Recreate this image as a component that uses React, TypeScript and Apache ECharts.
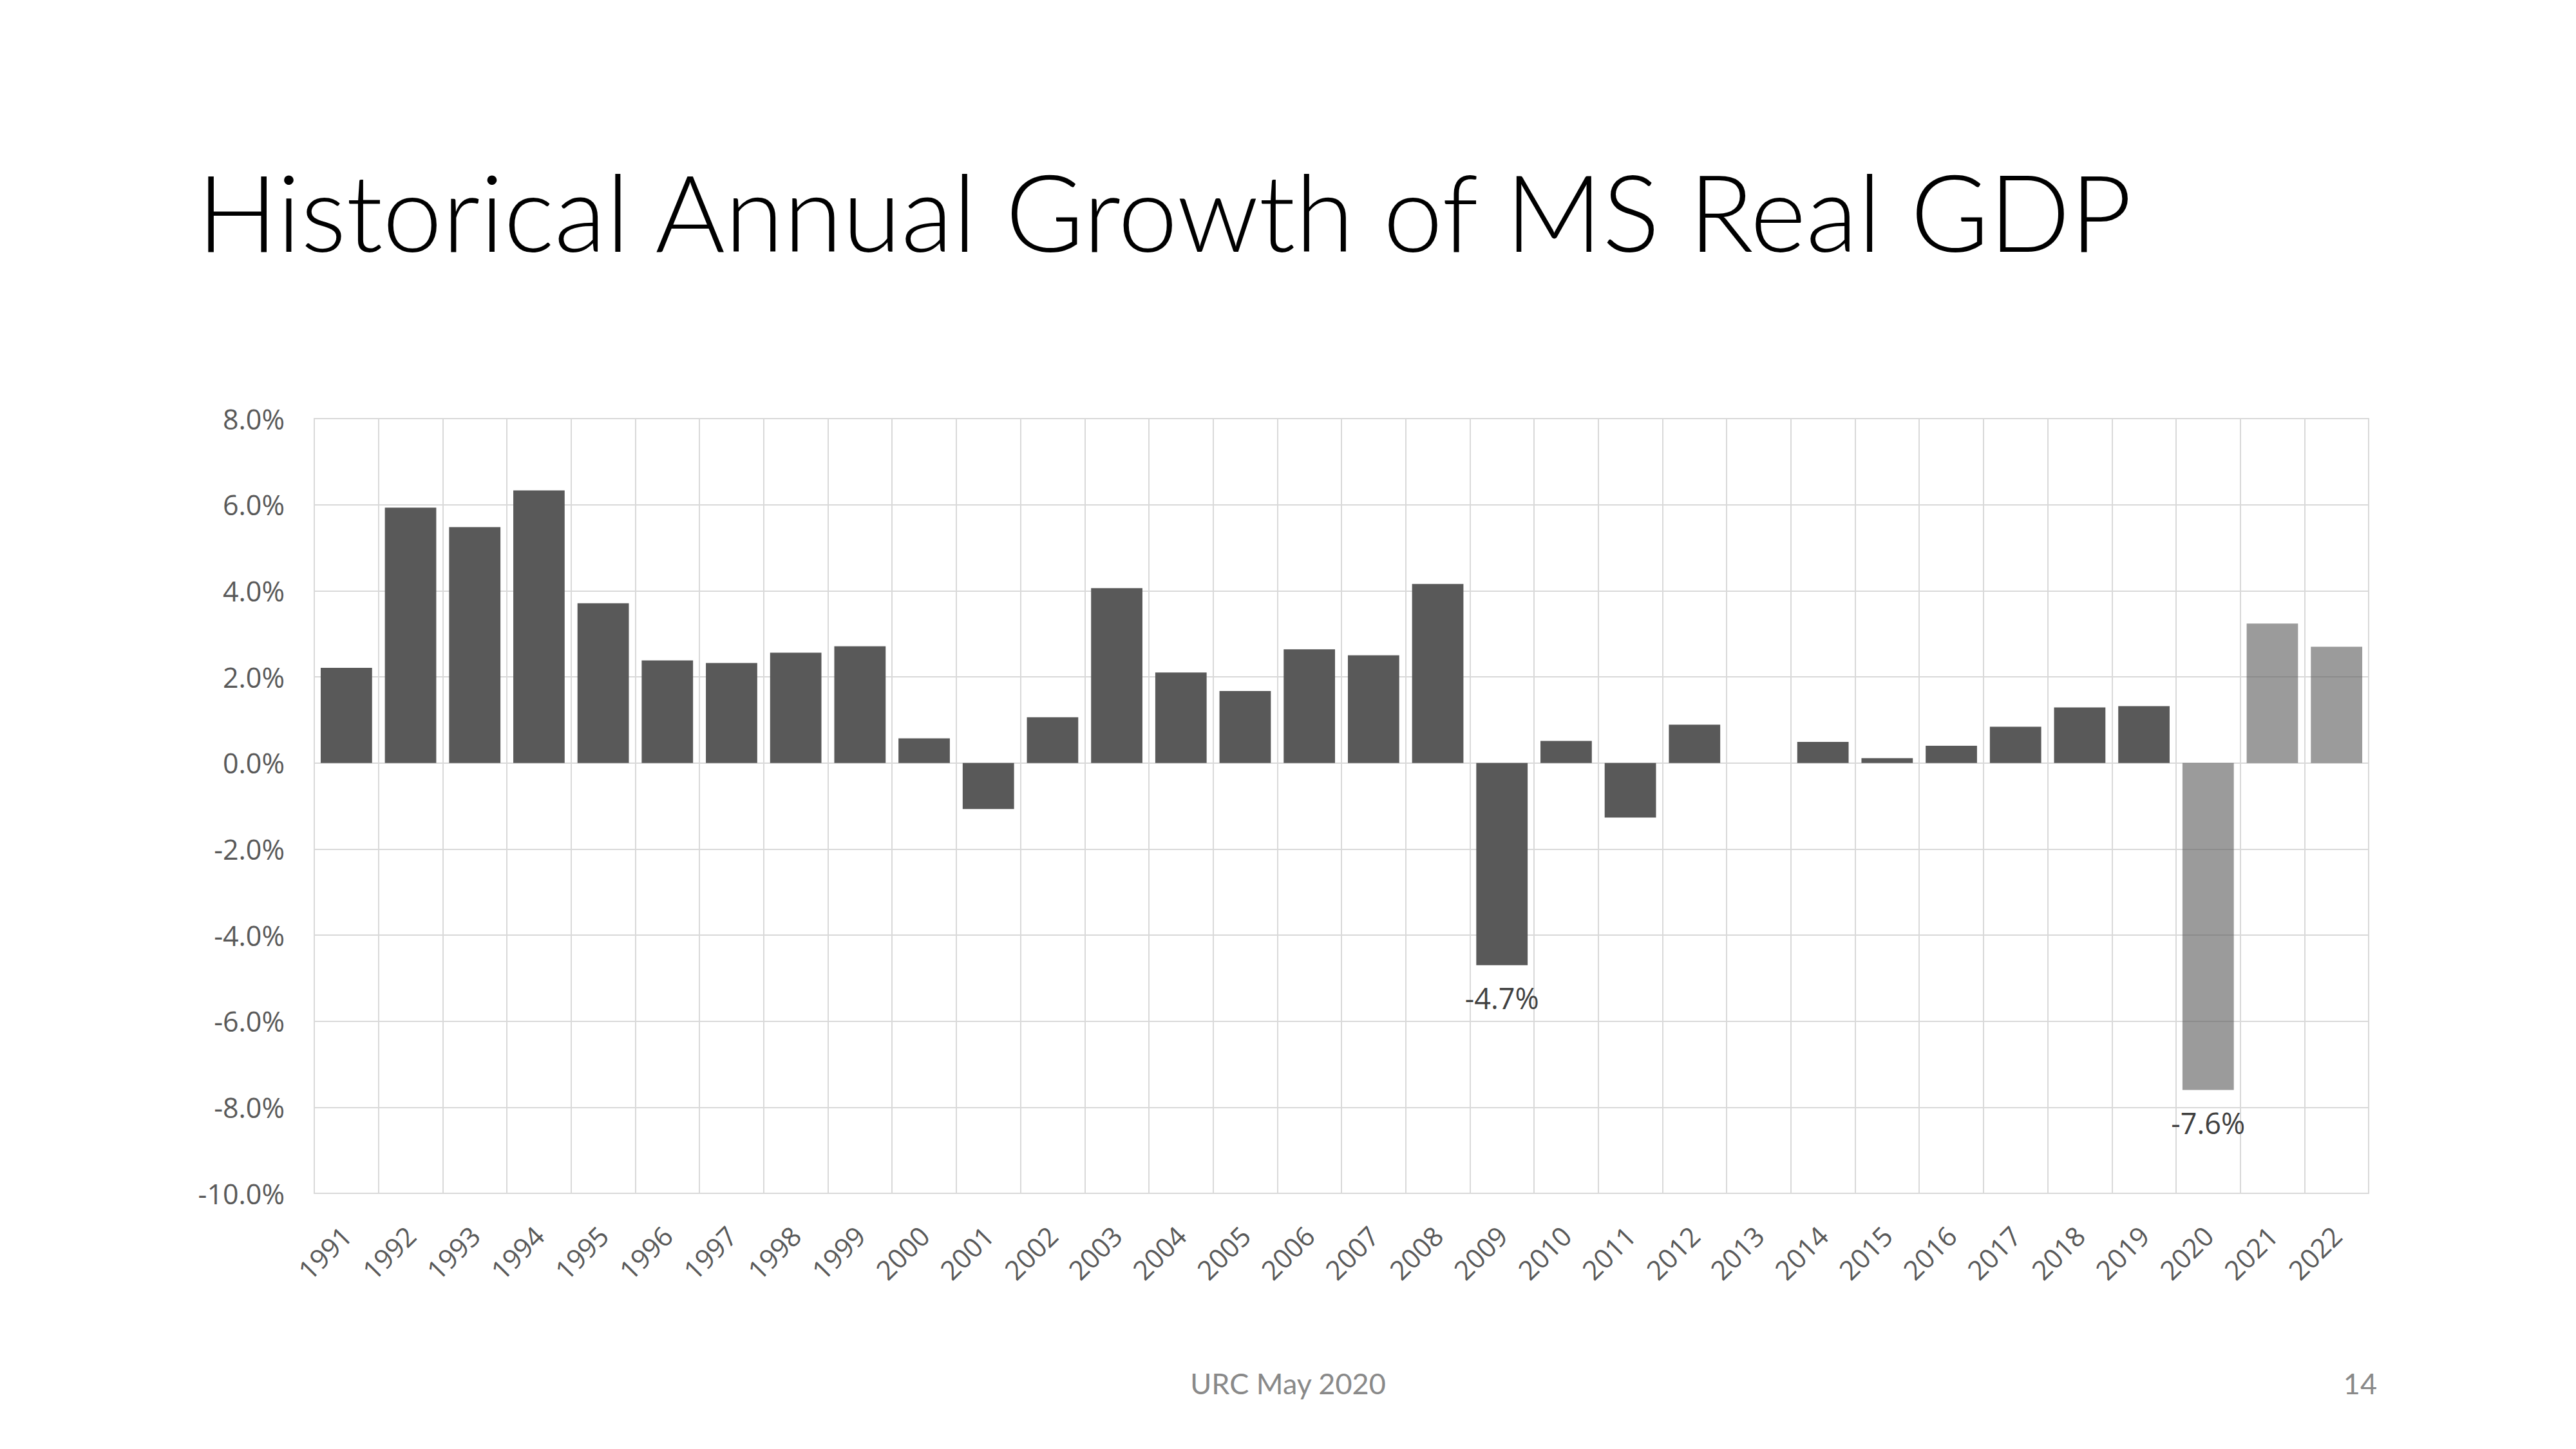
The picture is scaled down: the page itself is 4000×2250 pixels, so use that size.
import React, { useEffect, useRef } from "react";
import * as echarts from "echarts";

const titleText = "Historical Annual Growth of MS Real GDP";
const footerText = "URC May 2020";
const pageNumber = "14";

const years = [
  "1991", "1992", "1993", "1994", "1995", "1996", "1997", "1998", "1999", "2000",
  "2001", "2002", "2003", "2004", "2005", "2006", "2007", "2008", "2009", "2010",
  "2011", "2012", "2013", "2014", "2015", "2016", "2017", "2018", "2019", "2020",
  "2021", "2022",
];

const growth: (number | null)[] = [
  2.21, 5.93, 5.48, 6.33, 3.71, 2.38, 2.32, 2.56, 2.71, 0.57,
  -1.07, 1.06, 4.06, 2.1, 1.67, 2.64, 2.5, 4.16, -4.7, 0.51,
  -1.27, 0.89, null, 0.49, 0.11, 0.4, 0.84, 1.29, 1.32, -7.6,
  3.24, 2.7,
];

const forecastYears = ["2020", "2021", "2022"];
const labeledYears = ["2009", "2020"];

const yMin = -10;
const yMax = 8;
const yInterval = 2;

const ACTUAL_COLOR = "#595959";
const FORECAST_COLOR = "rgba(89,89,89,0.6)";
const GRID_COLOR = "#d9d9d9";
const CHART_FONT = "'Open Sans', 'DejaVu Sans', sans-serif";
const TITLE_FONT = "Lato, 'Open Sans', sans-serif";

export default function App() {
  const ref = useRef<HTMLDivElement>(null);

  useEffect(() => {
    document.body.style.margin = "0";
    document.body.style.overflow = "hidden";
    if (!ref.current) return;
    const chart = echarts.init(ref.current, null, { renderer: "svg" });

    const data = years.map((y, i) => {
      const v = growth[i];
      const isForecast = forecastYears.includes(y);
      const showLabel = labeledYears.includes(y);
      return {
        value: v === null ? "-" : v,
        itemStyle: { color: isForecast ? FORECAST_COLOR : ACTUAL_COLOR },
        label: {
          show: showLabel,
          position: "bottom",
          distance: 28,
          formatter: (p: any) => `${Number(p.value).toFixed(1)}%`,
          color: "#404040",
          fontSize: 45,
          fontFamily: CHART_FONT,
        },
      };
    });

    chart.setOption({
      animation: false,
      backgroundColor: "#ffffff",
      grid: {
        left: 488,
        right: 322,
        top: 650,
        bottom: 397,
        show: true,
        borderColor: GRID_COLOR,
        borderWidth: 2,
        backgroundColor: "transparent",
      },
      xAxis: {
        type: "category",
        data: years,
        boundaryGap: true,
        axisLine: { show: false, onZero: false },
        axisTick: { show: false },
        splitLine: { show: true, lineStyle: { color: GRID_COLOR, width: 2 } },
        axisLabel: {
          interval: 0,
          rotate: 45,
          margin: 58,
          color: "#595959",
          fontSize: 42,
          fontFamily: CHART_FONT,
        },
      },
      yAxis: {
        type: "value",
        min: yMin,
        max: yMax,
        interval: yInterval,
        axisLine: { show: false },
        axisTick: { show: false },
        splitLine: { show: true, lineStyle: { color: GRID_COLOR, width: 2 } },
        axisLabel: {
          margin: 46,
          color: "#595959",
          fontSize: 43,
          fontFamily: CHART_FONT,
          formatter: (v: number) => `${v.toFixed(1)}%`,
        },
      },
      series: [
        {
          type: "bar",
          data,
          barCategoryGap: "20%",
        },
      ],
      graphic: [
        {
          type: "text",
          left: 306,
          top: 243,
          style: {
            text: titleText,
            fontSize: 166,
            fontWeight: 300,
            fontFamily: TITLE_FONT,
            fill: "#000000",
          },
        },
        {
          type: "text",
          x: 2000,
          y: 2148,
          style: {
            text: footerText,
            fontSize: 45,
            fontFamily: TITLE_FONT,
            fill: "#898989",
            align: "center",
            verticalAlign: "middle",
          },
        },
        {
          type: "text",
          x: 3691,
          y: 2148,
          style: {
            text: pageNumber,
            fontSize: 45,
            fontFamily: TITLE_FONT,
            fill: "#898989",
            align: "right",
            verticalAlign: "middle",
          },
        },
      ],
    });

    return () => {
      chart.dispose();
    };
  }, []);

  return (
    <div
      ref={ref}
      style={{ position: "absolute", left: 0, top: 0, width: 4000, height: 2250 }}
    />
  );
}
